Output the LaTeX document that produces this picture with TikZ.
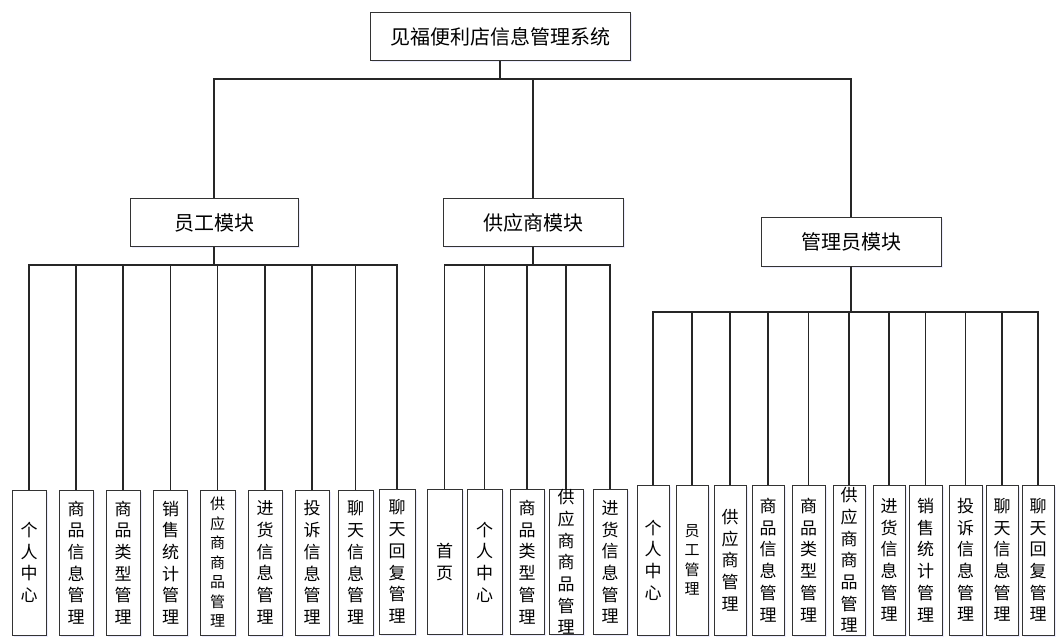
\documentclass[tikz,border=0pt]{standalone}
\usepackage{fontspec}
\setmainfont{Noto Sans CJK SC}
\usepackage{tikz}
\usetikzlibrary{shadows}

\begin{document}
\begin{tikzpicture}[
    x=1pt, y=-1pt,
    box/.style={draw=black!80, line width=1pt, fill=white, inner sep=0pt,
        drop shadow={shadow xshift=1.5pt, shadow yshift=-1.5pt, fill=blue!12, opacity=0.6}},
    top/.style={box, minimum width=260pt, minimum height=48pt, font=\fontsize{20}{24}\selectfont},
    mod/.style={box, minimum height=48pt, font=\fontsize{20}{24}\selectfont},
    leaf/.style={box, minimum width=34pt, minimum height=145pt, align=center,
        font=\fontsize{17}{21.7}\selectfont},
    small/.style={font=\fontsize{15}{19.5}\selectfont},
    link/.style={draw=black!85, line width=1.2pt}
]
    \useasboundingbox (0,0) rectangle (1061,644);

    % system and modules
    \node[top] (SYS) at (500,37) {见福便利店信息管理系统};
    \node[mod, minimum width=168pt] (EMP) at (214,223) {员工模块};
    \node[mod, minimum width=180pt] (SUP) at (533,223) {供应商模块};
    \node[mod, minimum width=180pt, minimum height=49pt] (ADM) at (851,242) {管理员模块};

    \coordinate (busT) at (0,79);
    \coordinate (busE) at (0,265);
    \coordinate (busA) at (0,312);

    % employee leaves
    \node[leaf] (E1) at (29,562.5) {个\\人\\中\\心};
    \node[leaf] (E2) at (76,562.5) {商\\品\\信\\息\\管\\理};
    \node[leaf] (E3) at (123,562.5) {商\\品\\类\\型\\管\\理};
    \node[leaf] (E4) at (170.5,562.5) {销\\售\\统\\计\\管\\理};
    \node[leaf, small, minimum width=35pt] (E5) at (217.5,562.5) {供\\应\\商\\商\\品\\管\\理};
    \node[leaf] (E6) at (265,562.5) {进\\货\\信\\息\\管\\理};
    \node[leaf] (E7) at (312,562.5) {投\\诉\\信\\息\\管\\理};
    \node[leaf, minimum width=35pt] (E8) at (355.5,562.5) {聊\\天\\信\\息\\管\\理};
    \node[leaf, minimum width=36pt] (E9) at (397,561.5) {聊\\天\\回\\复\\管\\理};

    % supplier leaves
    \node[leaf, minimum width=35pt] (S1) at (444.5,562) {首\\页};
    \node[leaf, minimum width=35pt] (S2) at (484.5,562) {个\\人\\中\\心};
    \node[leaf] (S3) at (527,562) {商\\品\\类\\型\\管\\理};
    \node[leaf] (S4) at (566,562) {供\\应\\商\\商\\品\\管\\理};
    \node[leaf] (S5) at (610,562) {进\\货\\信\\息\\管\\理};

    % admin leaves
    \node[leaf, minimum width=32pt, minimum height=150pt] (A1) at (653,560) {个\\人\\中\\心};
    \node[leaf, small, minimum width=32pt, minimum height=150pt] (A2) at (692,560) {员\\工\\管\\理};
    \node[leaf, minimum width=32pt, minimum height=150pt] (A3) at (730,560) {供\\应\\商\\管\\理};
    \node[leaf, minimum width=32pt, minimum height=150pt] (A4) at (768,560) {商\\品\\信\\息\\管\\理};
    \node[leaf, minimum width=33pt, minimum height=150pt] (A5) at (808.5,560) {商\\品\\类\\型\\管\\理};
    \node[leaf, minimum width=32pt, minimum height=150pt] (A6) at (849,560) {供\\应\\商\\商\\品\\管\\理};
    \node[leaf, minimum width=32pt, minimum height=150pt] (A7) at (889,560) {进\\货\\信\\息\\管\\理};
    \node[leaf, minimum width=33pt, minimum height=150pt] (A8) at (925.5,560) {销\\售\\统\\计\\管\\理};
    \node[leaf, minimum width=33pt, minimum height=150pt] (A9) at (965.5,560) {投\\诉\\信\\息\\管\\理};
    \node[leaf, minimum width=32pt, minimum height=150pt] (A10) at (1002,560) {聊\\天\\信\\息\\管\\理};
    \node[leaf, minimum width=32pt, minimum height=150pt] (A11) at (1038,560) {聊\\天\\回\\复\\管\\理};

    % system to modules
    \draw[link] (SYS.south) -- (SYS.south |- busT) -| (EMP.north);
    \draw[link] (SYS.south) -- (SYS.south |- busT) -| (SUP.north);
    \draw[link] (SYS.south) -- (SYS.south |- busT) -| (ADM.north);

    % modules to leaves
    \draw[link] (EMP.south) -- (EMP.south |- busE) -| (E1.north);
    \draw[link] (EMP.south) -- (EMP.south |- busE) -| (E2.north);
    \draw[link] (EMP.south) -- (EMP.south |- busE) -| (E3.north);
    \draw[link] (EMP.south) -- (EMP.south |- busE) -| (E4.north);
    \draw[link] (EMP.south) -- (EMP.south |- busE) -| (E5.north);
    \draw[link] (EMP.south) -- (EMP.south |- busE) -| (E6.north);
    \draw[link] (EMP.south) -- (EMP.south |- busE) -| (E7.north);
    \draw[link] (EMP.south) -- (EMP.south |- busE) -| (E8.north);
    \draw[link] (EMP.south) -- (EMP.south |- busE) -| (E9.north);

    \draw[link] (SUP.south) -- (SUP.south |- busE) -| (S1.north);
    \draw[link] (SUP.south) -- (SUP.south |- busE) -| (S2.north);
    \draw[link] (SUP.south) -- (SUP.south |- busE) -| (S3.north);
    \draw[link] (SUP.south) -- (SUP.south |- busE) -| (S4.north);
    \draw[link] (SUP.south) -- (SUP.south |- busE) -| (S5.north);

    \draw[link] (ADM.south) -- (ADM.south |- busA) -| (A1.north);
    \draw[link] (ADM.south) -- (ADM.south |- busA) -| (A2.north);
    \draw[link] (ADM.south) -- (ADM.south |- busA) -| (A3.north);
    \draw[link] (ADM.south) -- (ADM.south |- busA) -| (A4.north);
    \draw[link] (ADM.south) -- (ADM.south |- busA) -| (A5.north);
    \draw[link] (ADM.south) -- (ADM.south |- busA) -| (A6.north);
    \draw[link] (ADM.south) -- (ADM.south |- busA) -| (A7.north);
    \draw[link] (ADM.south) -- (ADM.south |- busA) -| (A8.north);
    \draw[link] (ADM.south) -- (ADM.south |- busA) -| (A9.north);
    \draw[link] (ADM.south) -- (ADM.south |- busA) -| (A10.north);
    \draw[link] (ADM.south) -- (ADM.south |- busA) -| (A11.north);
\end{tikzpicture}
\end{document}
